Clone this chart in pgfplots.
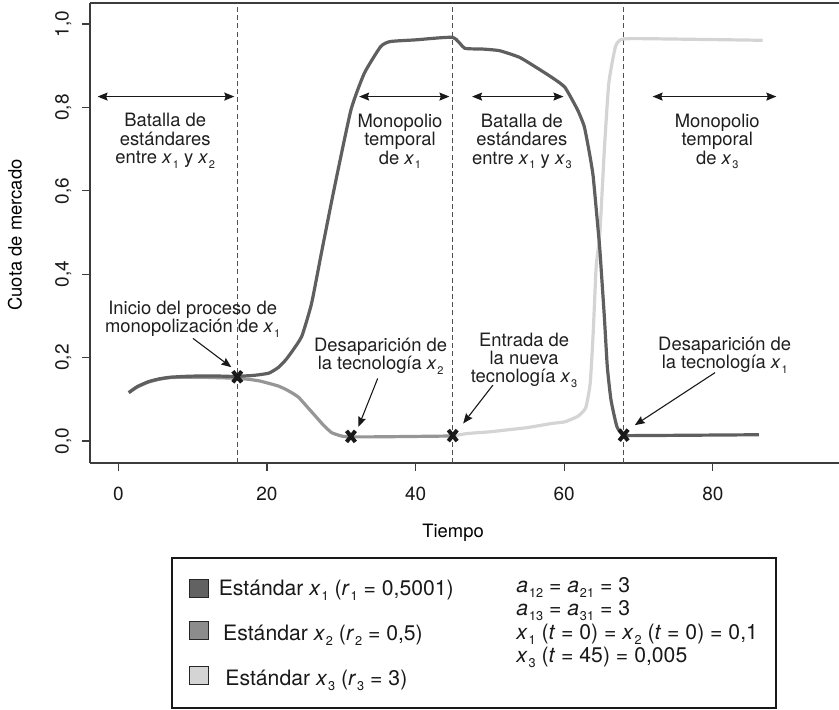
\documentclass[border=0pt]{standalone}
\usepackage{fontspec}
\setmainfont{TeX Gyre Heros}
\usepackage{pgfplots}
\pgfplotsset{compat=1.18}
\usetikzlibrary{arrows.meta,calc}

\definecolor{cone}{RGB}{98,98,98}
\definecolor{ctwo}{RGB}{140,140,140}
\definecolor{cthree}{RGB}{192,192,192}
\definecolor{lone}{RGB}{95,95,95}
\definecolor{ltwo}{RGB}{150,150,150}
\definecolor{lthree}{RGB}{212,212,212}
\definecolor{spine}{RGB}{60,60,60}

\newcommand\sub[1]{\kern0.04em\raisebox{-0.5ex}{\scalebox{0.6}{#1}}}
\newcommand\xs[1]{\textit{x}\sub{#1}}

\pgfplotstableread{
t y
1.4 0.116
2.5 0.130
4.0 0.142
5.5 0.149
7 0.153
9 0.155
11 0.156
13 0.156
15 0.155
16 0.155
17 0.156
18 0.157
19 0.159
20.3 0.163
21.5 0.176
22.5 0.194
23.5 0.218
24.7 0.252
26 0.33
27.4 0.458
29.1 0.61
31.3 0.794
33.1 0.882
35.3 0.946
36.6 0.958
40 0.962
45 0.968
46.6 0.942
49 0.940
51.3 0.936
54 0.920
56.5 0.893
58.5 0.870
60.1 0.848
61.8 0.794
62.7 0.754
63.4 0.690
63.9 0.634
64.6 0.499
64.8 0.458
65.4 0.298
65.8 0.178
66.3 0.098
67.1 0.034
68 0.014
70 0.013
86.2 0.015
}\xone

\pgfplotstableread{
t y
1.4 0.116
2.5 0.129
4 0.141
5.5 0.148
7 0.152
9 0.153
11 0.153
13 0.152
15 0.151
16 0.150
17.5 0.148
19 0.144
20.3 0.138
21.5 0.132
22.5 0.124
23.5 0.114
24.3 0.104
25.5 0.080
26.5 0.060
27.6 0.038
28.7 0.020
30 0.012
30.9 0.010
35 0.010
45 0.012
}\xtwo

\pgfplotstableread{
t y
45 0.012
47 0.018
50 0.022
52 0.026
55 0.032
58.3 0.042
60.1 0.046
61.9 0.060
62.9 0.080
63.5 0.139
63.9 0.259
64.3 0.418
64.8 0.499
65.4 0.698
66.0 0.858
66.9 0.946
67.7 0.963
70 0.965
86.7 0.961
}\xthree

\pgfplotstableread{
t y
16 0.154
31.3 0.011
45 0.013
68 0.014
}\marks

\begin{document}
\begin{tikzpicture}[
  ann/.style={font=\fontsize{9.2}{9.1}\selectfont, align=center, inner sep=0pt, text=black!88},
  dbl/.style={{Stealth[length=5pt,width=4pt,inset=0.7pt]}-{Stealth[length=5pt,width=4pt,inset=0.7pt]}, line width=0.6pt, black!90},
  sgl/.style={-{Stealth[length=5pt,width=4pt,inset=0.7pt]}, line width=0.55pt, black!90},
  leg/.style={font=\fontsize{10.6}{11}\selectfont, inner sep=0pt, anchor=base west, text=black!90}
]
\begin{axis}[
  scale only axis, width=374.5pt, height=230pt,
  xmin=-3.82, xmax=96.98, ymin=-0.0528, ymax=1.0504,
  separate axis lines,
  axis x line*=box, axis y line*=left,
  axis line style={spine, line width=1pt},
  xtick={0,20,40,60,80}, xticklabels={0,20,40,60,80},
  ytick={0,0.2,0.4,0.6,0.8,1}, yticklabels={{0,0},{0,2},{0,4},{0,6},{0,8},{1,0}},
  tick align=outside, major tick length=4pt,
  tick style={spine, line width=0.6pt},
  tick pos=left,
  ticklabel style={font=\fontsize{9.5}{10}\selectfont, text=black!90},
  yticklabel style={rotate=90, anchor=base, yshift=6.7pt},
  xticklabel style={anchor=base, yshift=-14.5pt},
  xlabel={Tiempo}, ylabel={Cuota de mercado},
  every axis x label/.style={at={(axis description cs:0.4847,0)}, anchor=center, yshift=-35pt, font=\fontsize{9.2}{10}\selectfont},
  every axis y label/.style={at={(axis description cs:0,0.4957)}, rotate=90, anchor=center, yshift=37.5pt, font=\fontsize{9.2}{10}\selectfont},
  clip=false,
]
\coordinate (bl) at (rel axis cs:0,0);
\draw[spine, line width=1pt] (rel axis cs:0,1) -- (rel axis cs:1,1);
% dashed separators
\addplot[spine!90, line width=0.7pt, dash pattern=on 2.5pt off 1.6pt] coordinates {(16,-0.0528) (16,1.0504)};
\addplot[spine!90, line width=0.7pt, dash pattern=on 2.5pt off 1.6pt] coordinates {(45,-0.0528) (45,1.0504)};
\addplot[spine!90, line width=0.7pt, dash pattern=on 2.5pt off 1.6pt] coordinates {(68,-0.0528) (68,1.0504)};
% curves
\addplot[ltwo, line width=1.6pt, smooth, tension=0.3] table[x=t,y=y] {\xtwo};
\addplot[lthree, line width=1.6pt, smooth, tension=0.3] table[x=t,y=y] {\xthree};
\addplot[lone, line width=1.6pt, smooth, tension=0.3] table[x=t,y=y] {\xone};
% marks
\addplot[only marks, mark=x, mark size=3.9pt, mark options={black!90, line width=2pt, xscale=0.8}] table[x=t,y=y] {\marks};
% double arrows
\draw[dbl] (axis cs:-2.8,0.826) -- (axis cs:15.6,0.826);
\draw[dbl] (axis cs:32.4,0.826) -- (axis cs:44.55,0.826);
\draw[dbl] (axis cs:47.6,0.826) -- (axis cs:59.9,0.826);
\draw[dbl] (axis cs:71.9,0.826) -- (axis cs:88.55,0.826);
% labels
\node[ann] at (axis cs:6.3,0.720) {Batalla de\\estándares\\entre \xs{1} y \xs{2}};
\node[ann] at (axis cs:37.9,0.718) {Monopolio\\temporal\\de \xs{1}};
\node[ann] at (axis cs:54.3,0.718) {Batalla de\\estándares\\entre \xs{1} y \xs{3}};
\node[ann] at (axis cs:80.6,0.718) {Monopolio\\temporal\\de \xs{3}};
\node[ann] at (axis cs:10.0,0.292) {Inicio del proceso de\\monopolización de \xs{1}};
\node[ann] at (axis cs:35.3,0.203) {Desaparición de\\la tecnología \xs{2}};
\node[ann] at (axis cs:54.6,0.194) {Entrada de\\la nueva\\tecnología \xs{3}};
\node[ann] at (axis cs:81.6,0.205) {Desaparición de\\la tecnología \xs{1}};
% single arrows
\draw[sgl] (axis cs:10.04,0.246) -- (axis cs:15.2,0.177);
\draw[sgl] (axis cs:34.9,0.150) -- (axis cs:32.3,0.034);
\draw[sgl] (axis cs:50.4,0.134) -- (axis cs:46.4,0.042);
\draw[sgl] (axis cs:80.3,0.164) -- (axis cs:69.5,0.038);
\end{axis}
% legend box
\begin{scope}[shift={(bl)}]
\draw[line width=0.6pt, black!90] (41pt,-47.5pt) rectangle (343pt,-122.5pt);
\filldraw[fill=cone, draw=black!85, line width=0.4pt] (49.7pt,-58.15pt) rectangle (59.2pt,-67.15pt);
\filldraw[fill=ctwo, draw=black!85, line width=0.4pt] (49.7pt,-79.2pt) rectangle (59.2pt,-88.2pt);
\filldraw[fill=lthree, draw=black!85, line width=0.4pt] (49.7pt,-101.7pt) rectangle (59.2pt,-110.7pt);
\node[leg] at (64.2pt,-66pt) {Estándar \xs{1} (\textit{r}\sub{1} = 0,5001)};
\node[leg] at (66.4pt,-88.5pt) {Estándar \xs{2} (\textit{r}\sub{2} = 0,5)};
\node[leg] at (67.5pt,-111pt) {Estándar \xs{3} (\textit{r}\sub{3} = 3)};
\node[leg] at (213pt,-64.7pt) {\textit{a}\sub{12} = \textit{a}\sub{21} = 3};
\node[leg] at (213pt,-76.2pt) {\textit{a}\sub{13} = \textit{a}\sub{31} = 3};
\node[leg] at (213pt,-88.2pt) {\xs{1} (\textit{t} = 0) = \xs{2} (\textit{t} = 0) = 0,1};
\node[leg] at (213pt,-99.7pt) {\xs{3} (\textit{t} = 45) = 0,005};
\end{scope}
\pgfresetboundingbox
\useasboundingbox ([xshift=-45pt,yshift=-123pt]bl) rectangle ([xshift=374.5pt,yshift=231.5pt]bl);
\end{tikzpicture}
\end{document}
